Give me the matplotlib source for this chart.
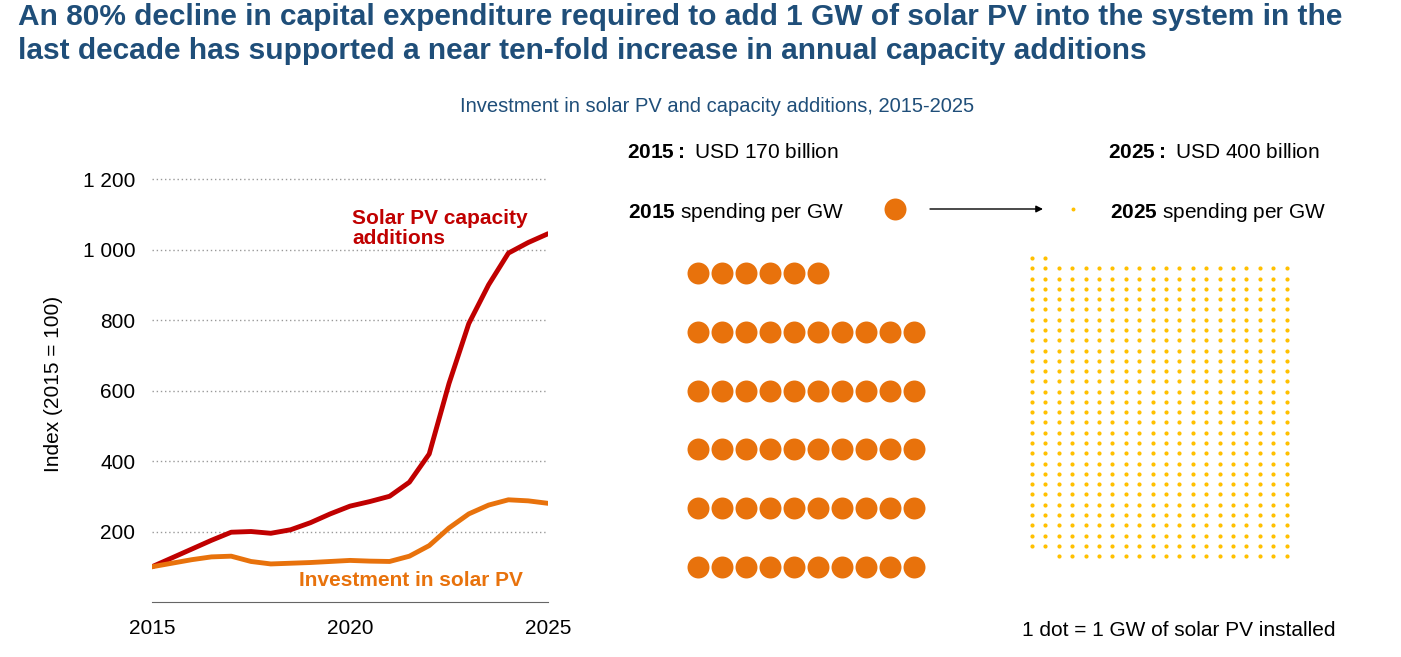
import matplotlib.pyplot as plt
import numpy as np

years = [2015, 2015.5, 2016, 2016.5, 2017, 2017.5, 2018, 2018.5, 2019, 2019.5, 2020, 2020.5,
         2021, 2021.5, 2022, 2022.5, 2023, 2023.5, 2024, 2024.5, 2025]
capacity = [100, 125, 150, 175, 198, 200, 195, 205, 225, 250, 272, 285,
            300, 340, 420, 620, 790, 900, 990, 1020, 1045]
investment = [100, 110, 120, 128, 130, 115, 108, 110, 112, 115, 118, 116,
              115, 130, 160, 210, 250, 275, 290, 287, 280]

dots_2015 = 56    # GW per 170 bn (row of 6 + 5 rows of 10)
dots_2025 = 580   # 2 + 28 rows of 20 + 18

NAVY = "#1F4E79"
RED = "#C00000"
ORANGE = "#E8720C"
YELLOW = "#FFC000"

plt.rcParams['font.family'] = ['Liberation Sans', 'DejaVu Sans']
plt.rcParams['mathtext.fontset'] = 'custom'
plt.rcParams['mathtext.rm'] = 'Liberation Sans'
plt.rcParams['mathtext.bf'] = 'Liberation Sans:bold'
fig = plt.figure(figsize=(14.01, 6.57), dpi=100)

fig.text(18 / 1401, 1 - 34 / 657,
         "An 80% decline in capital expenditure required to add 1 GW of solar PV into the system in the\n"
         "last decade has supported a near ten-fold increase in annual capacity additions",
         fontsize=21.5, fontweight="bold", color=NAVY, va="center", linespacing=1.3)
fig.text(717 / 1401, 1 - 107 / 657, "Investment in solar PV and capacity additions, 2015-2025",
         fontsize=14.5, color=NAVY, ha="center", va="center")

# line chart
ax = fig.add_axes([152 / 1401, 1 - 602 / 657, 396 / 1401, (602 - 165) / 657])
ax.plot(years, capacity, color=RED, lw=3.5, solid_joinstyle="round", solid_capstyle="round")
ax.plot(years, investment, color=ORANGE, lw=3.5, solid_joinstyle="round", solid_capstyle="round")
ax.set_xlim(2015, 2025)
ax.set_ylim(0, 1240)
ax.set_xticks([2015, 2020, 2025])
ax.set_yticks([200, 400, 600, 800, 1000, 1200])
ax.set_yticklabels(["200", "400", "600", "800", "1 000", "1 200"])
ax.tick_params(labelsize=15, length=0, pad=12)
ax.yaxis.grid(True, linestyle=(0, (1, 2)), color="#999999", lw=1)
for s in ["top", "right", "left"]:
    ax.spines[s].set_visible(False)
ax.spines["bottom"].set_color("#666666")
ax.set_ylabel("Index (2015 = 100)", fontsize=15, labelpad=14)
ax.text(2020.05, 1060, "Solar PV capacity\nadditions", color=RED, fontsize=15,
        fontweight="bold", va="center", linespacing=1.1)
ax.text(2018.7, 62, "Investment in solar PV", color=ORANGE, fontsize=15,
        fontweight="bold", va="center")

# dot panel in pixel coordinates
ov = fig.add_axes([0, 0, 1, 1])
ov.set_xlim(0, 1401)
ov.set_ylim(657, 0)
ov.axis("off")

fig.text(627 / 1401, 1 - 152 / 657, r"$\bf{2015:}$ USD 170 billion", fontsize=15, va="center")
fig.text(1108 / 1401, 1 - 152 / 657, r"$\bf{2025:}$ USD 400 billion", fontsize=15, va="center")
fig.text(628 / 1401, 1 - 212 / 657, r"$\bf{2015}$ spending per GW", fontsize=15, va="center")
fig.text(1110 / 1401, 1 - 212 / 657, r"$\bf{2025}$ spending per GW", fontsize=15, va="center")
fig.text(1335 / 1401, 1 - 630 / 657, "1 dot = 1 GW of solar PV installed", fontsize=15,
         va="center", ha="right")
ov.scatter([895], [209], s=250, color=ORANGE, lw=0)
ov.scatter([1073], [209], s=8, color=YELLOW, lw=0)
ov.annotate("", xy=(1043, 209), xytext=(930, 209),
            arrowprops=dict(arrowstyle="-|>", color="black", lw=1, shrinkA=0, shrinkB=0))

# 2015 dots: first row 6, then rows of 10
ox, oy = [], []
first = dots_2015 - 50
for i in range(dots_2015):
    if i < first:
        r, c = 0, i
    else:
        r, c = 1 + (i - first) // 10, (i - first) % 10
    ox.append(698 + 24 * c)
    oy.append(273 + 58.8 * r)
ov.scatter(ox, oy, s=250, color=ORANGE, lw=0)

# 2025 dots: 20 columns, 30 rows, first row 2, last row 18
yx, yy = [], []
idx = 0
for r in range(30):
    cols = range(2) if r == 0 else (range(2, 20) if r == 29 else range(20))
    for c in cols:
        if idx < dots_2025:
            yx.append(1032 + 13.4 * c)
            yy.append(258 + 10.28 * r)
            idx += 1
ov.scatter(yx, yy, s=9, color=YELLOW, lw=0)

fig.savefig("out.png", dpi=100)
